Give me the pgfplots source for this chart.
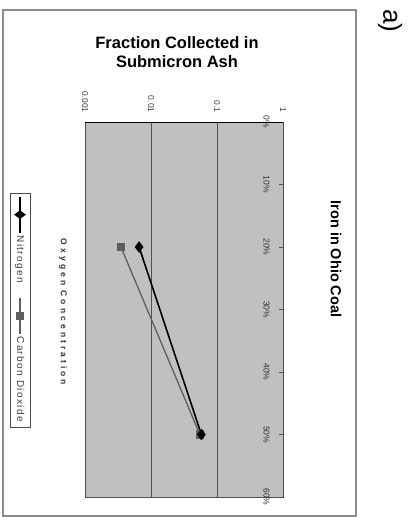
\documentclass[border=0pt]{standalone}
\usepackage{pgfplots}
\pgfplotsset{compat=1.18}
\usepackage{fontspec}
\setmainfont{Liberation Sans}
\definecolor{plotgray}{RGB}{192,192,192}
\definecolor{gridgray}{RGB}{80,80,80}
\definecolor{co2gray}{RGB}{95,95,95}
\definecolor{framegray}{RGB}{140,140,140}
\tikzset{
  n2style/.style={black, line width=1.6pt, mark=diamond*, mark size=4.5pt, mark options={fill=black}},
  co2style/.style={co2gray, line width=1.3pt, mark=square*, mark size=3.5pt, mark options={fill=co2gray, draw=co2gray}},
}

\begin{document}
\begin{tikzpicture}
\useasboundingbox (0pt,0pt) rectangle (410pt,-521pt);
% outer chart frame
\draw[framegray, line width=1.2pt] (3pt,-10pt) rectangle (356pt,-516pt);
\node[rotate=-90, font=\fontsize{26}{26}\selectfont] at (390pt,-21pt) {a)};
\node[align=center, font=\bfseries\fontsize{16.5}{19.5}\selectfont] at (177pt,-52pt) {Fraction Collected in\\Submicron Ash};
\node[rotate=-90, font=\bfseries\fontsize{14.5}{16}\selectfont] at (336pt,-259pt) {Iron in Ohio Coal};
\node[rotate=-90, font=\bfseries\fontsize{8.5}{9}\selectfont\addfontfeatures{LetterSpace=36}, text=black!80] at (63pt,-312pt) {Oxygen Concentration};

\begin{axis}[
  at={(85pt,-122pt)}, anchor=north west,
  scale only axis, width=198pt, height=375pt,
  xmode=log, xmin=0.001, xmax=1,
  ymin=0, ymax=60, y dir=reverse,
  axis background/.style={fill=plotgray},
  axis line style={draw=gridgray, line width=0.9pt},
  xtick={0.001,0.01,0.1,1},
  xticklabels={0.001,0.01,0.1,1},
  xticklabel pos=upper,
  major x tick style={draw=none},
  minor x tick style={draw=none},
  xmajorgrids,
  x grid style={draw=gridgray, line width=0.9pt},
  xticklabel style={yshift=6pt, rotate=-90, anchor=east, font=\fontsize{8.5}{9}\selectfont, text=black!75},
  ytick={0,10,20,30,40,50,60},
  yticklabels={0\%,10\%,20\%,30\%,40\%,50\%,60\%},
  ytick pos=right, yticklabel pos=right,
  major y tick style={draw=gridgray, line width=0.8pt},
  major tick length=4pt,
  yticklabel style={xshift=-10pt, rotate=-90, anchor=north, font=\fontsize{8.5}{9}\selectfont, text=black!80},
  /pgf/number format/assume math mode=true,
]
\addplot[co2style] coordinates {(0.0035,20) (0.055,50)};
\addplot[n2style] coordinates {(0.0066,20) (0.058,50)};
% heavy line along the zero-oxygen edge
\draw[black, line width=1.4pt] (axis cs:0.001,0) -- (axis cs:1,0);
\end{axis}

% legend, set sideways like the rest of the chart
\begin{scope}[shift={(20pt,-310pt)}, rotate=-90, transform shape]
\begin{axis}[
  hide axis, scale only axis, width=10pt, height=10pt,
  xmin=0, xmax=1, ymin=0, ymax=1,
  at={(0pt,0pt)}, anchor=center,
  legend style={at={(0.5,0.5)}, anchor=center, draw=black!70, fill=white,
    line width=0.6pt, inner ysep=3.5pt, inner xsep=3pt,
    font=\fontsize{10}{11}\selectfont\addfontfeatures{LetterSpace=14}, text=black!75,
    /tikz/every even column/.append style={column sep=12pt}},
  legend columns=2,
  legend image code/.code={\draw[mark repeat=2, mark phase=2] plot coordinates {(0pt,0pt) (18pt,0pt) (36pt,0pt)};},
]
\addlegendimage{n2style}
\addlegendentry{Nitrogen}
\addlegendimage{co2style}
\addlegendentry{Carbon Dioxide}
\end{axis}
\end{scope}
\end{tikzpicture}
\end{document}
